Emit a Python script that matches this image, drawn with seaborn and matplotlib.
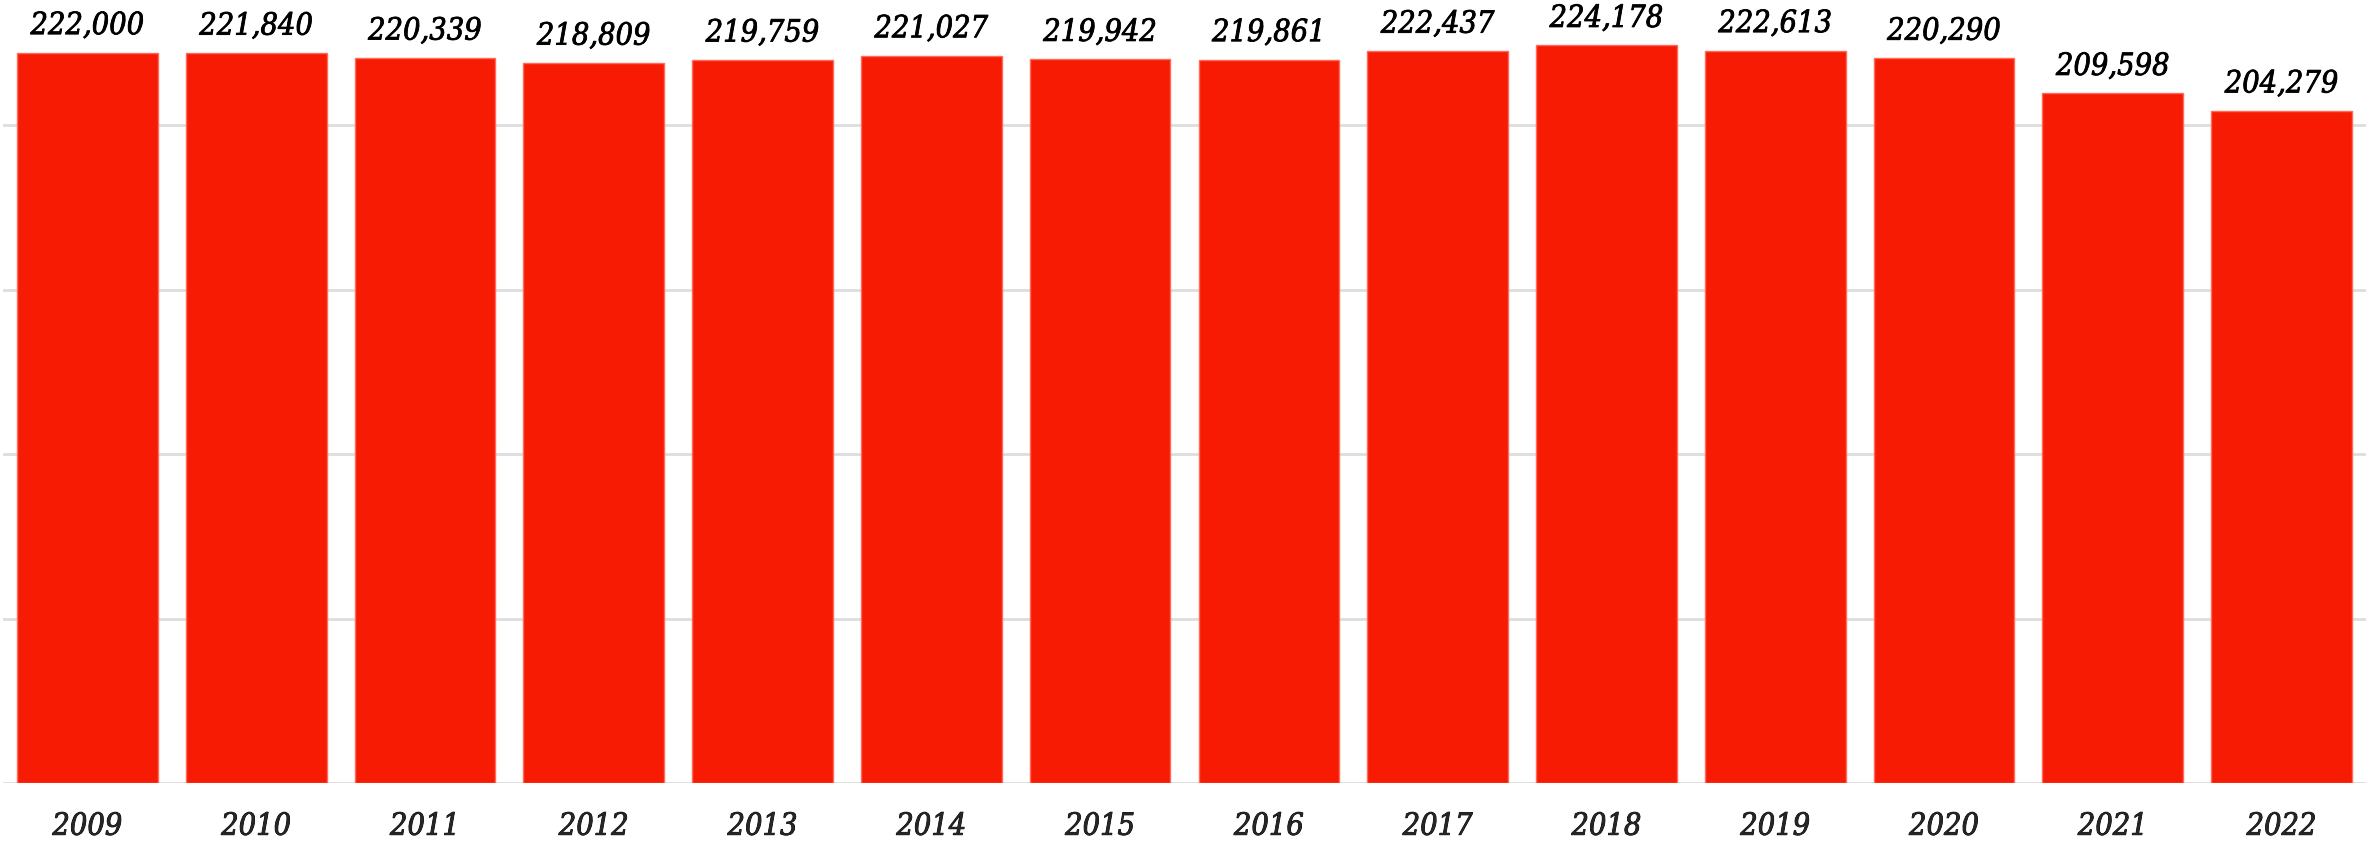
import seaborn as sns
import matplotlib.pyplot as plt
import matplotlib.patheffects as pe
import pandas as pd

# valeurs
annees = ['2009', '2010', '2011', '2012', '2013', '2014', '2015',
          '2016', '2017', '2018', '2019', '2020', '2021', '2022']
valeurs = [222000, 221840, 220339, 218809, 219759, 221027, 219942,
           219861, 222437, 224178, 222613, 220290, 209598, 204279]
graduations = [0, 50000, 100000, 150000, 200000]

df = pd.DataFrame({'annee': annees, 'valeur': valeurs})

sns.set_style('white')
plt.rcParams['font.family'] = ['DejaVu Serif']

fig = plt.figure(figsize=(23.74, 8.45), dpi=100)
ax = fig.add_axes([3 / 2374, 61 / 845, 2363 / 2374, 784 / 845])

sns.barplot(data=df, x='annee', y='valeur', color='#F81B04', saturation=1,
            width=0.834, edgecolor='#FF6A5A', linewidth=1, ax=ax, zorder=2)

ax.set_ylim(0, 238300)
ax.set_xlim(-0.5, len(annees) - 0.5)
ax.set_yticks(graduations)
ax.set_yticklabels([])
ax.yaxis.grid(True, color='#DDDDDD', linewidth=2, zorder=0)
ax.set_axisbelow(True)
ax.tick_params(axis='both', length=0)
ax.tick_params(axis='x', pad=20)
for s in ax.spines.values():
    s.set_visible(False)
ax.set_xlabel('')
ax.set_ylabel('')

# texte un peu plus épais, comme sur l'original
epais = [pe.withStroke(linewidth=0.6, foreground='black')]

for lbl in ax.get_xticklabels():
    lbl.set_fontsize(22)
    lbl.set_fontstyle('italic')
    lbl.set_fontstretch('condensed')
    lbl.set_path_effects(epais)

for i, v in enumerate(valeurs):
    ax.text(i, v + 3500, f'{v:,}', ha='center', va='bottom',
            fontsize=22, fontstyle='italic', fontstretch='condensed',
            color='black', path_effects=epais, clip_on=False)

fig.savefig('out.png', dpi=100)
